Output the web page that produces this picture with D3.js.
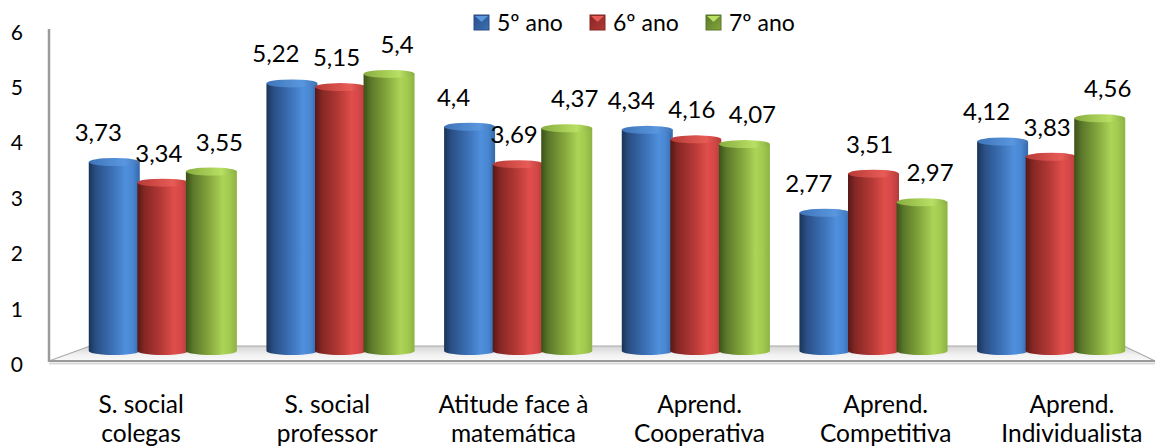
<!DOCTYPE html>
<html>
<head>
<meta charset="utf-8">
<script src="https://cdn.jsdelivr.net/npm/d3@7"></script>
<style>
  html, body { margin: 0; padding: 0; background: #fff; }
  svg { display: block; font-family: Lato, "Open Sans", sans-serif; }
</style>
</head>
<body>
<svg id="chart" width="1156" height="448"></svg>
<script>
// Categories (two-line labels) and the three school-year series
const categories = [
  ["S. social", "colegas"],
  ["S. social", "professor"],
  ["Atitude face à", "matemática"],
  ["Aprend.", "Cooperativa"],
  ["Aprend.", "Competitiva"],
  ["Aprend.", "Individualista"]
];
const seriesNames = ["5º ano", "6º ano", "7º ano"];
const ano5 = [3.73, 5.22, 4.4, 4.34, 2.77, 4.12];
const ano6 = [3.34, 5.15, 3.69, 4.16, 3.51, 3.83];
const ano7 = [3.55, 5.4, 4.37, 4.07, 2.97, 4.56];
const yTicks = [0, 1, 2, 3, 4, 5, 6];

const seriesValues = [ano5, ano6, ano7];
const palette = [
  { id: "blue",  stops: ["#1b3356", "#2a4f85", "#3b6fb4", "#4f8fdc", "#4a87d2", "#3467a8"], top: "#5a97df", topEdge: "#3f74b8" },
  { id: "red",   stops: ["#561817", "#852724", "#b23835", "#e04e4a", "#d5474a", "#b33c39"], top: "#e85c57", topEdge: "#b73a36" },
  { id: "green", stops: ["#3b5017", "#5a772a", "#84a63c", "#acd457", "#a2ca4f", "#8db243"], top: "#b9e064", topEdge: "#88ad40" }
];
const stopOffsets = [0, 0.14, 0.45, 0.72, 0.86, 1];

const svg = d3.select("#chart");
const defs = svg.append("defs");

palette.forEach(p => {
  const g = defs.append("linearGradient").attr("id", "body-" + p.id)
    .attr("x1", 0).attr("x2", 1).attr("y1", 0).attr("y2", 0);
  p.stops.forEach((c, i) => g.append("stop").attr("offset", stopOffsets[i]).attr("stop-color", c));
  const t = defs.append("linearGradient").attr("id", "top-" + p.id)
    .attr("x1", 0).attr("x2", 1).attr("y1", 0).attr("y2", 0);
  t.append("stop").attr("offset", 0).attr("stop-color", p.topEdge);
  t.append("stop").attr("offset", 0.7).attr("stop-color", p.top);
  t.append("stop").attr("offset", 1).attr("stop-color", p.topEdge);
  const lg = defs.append("linearGradient").attr("id", "leg-" + p.id)
    .attr("x1", 0).attr("x2", 1).attr("y1", 0).attr("y2", 1);
  lg.append("stop").attr("offset", 0).attr("stop-color", p.stops[1]);
  lg.append("stop").attr("offset", 1).attr("stop-color", p.stops[2]);
});

const floorGrad = defs.append("linearGradient").attr("id", "floor")
  .attr("x1", 0).attr("x2", 0).attr("y1", 0).attr("y2", 1);
floorGrad.append("stop").attr("offset", 0).attr("stop-color", "#d4d4d4");
floorGrad.append("stop").attr("offset", 0.6).attr("stop-color", "#f2f2f2");
floorGrad.append("stop").attr("offset", 1).attr("stop-color", "#fafafa");

// Back-wall scale for the cylinders, front scale for the value axis labels
const floorY = 355;
const yBar = d3.scaleLinear().domain([0, 6]).range([floorY, floorY - 316.8]);
const yAxisScale = d3.scaleLinear().domain([0, 6]).range([364.5, 32]);

// Category band on the back plane, and the projected front band for labels
const x0 = d3.scaleBand().domain(d3.range(categories.length)).range([74, 1140]).paddingInner(0.18).paddingOuter(0.09);
const xFront = d3.scaleBand().domain(d3.range(categories.length)).range([48, 1165]).paddingInner(0.18).paddingOuter(0.09);
const x1 = d3.scaleBand().domain(d3.range(seriesNames.length)).range([0, x0.bandwidth()]).padding(0);

// Floor platform
const floorPts = [[49, 361], [1155, 361], [1124, 346], [90, 346]];
svg.append("polygon")
  .attr("points", floorPts.map(p => p.join(",")).join(" "))
  .attr("fill", "url(#floor)")
  .attr("stroke", "#a9a9a9").attr("stroke-width", 1.2);
svg.append("line").attr("x1", 49).attr("x2", 1155).attr("y1", 361).attr("y2", 361)
  .attr("stroke", "#9a9a9a").attr("stroke-width", 2);
svg.append("line").attr("x1", 49).attr("x2", 1155).attr("y1", 363.5).attr("y2", 363.5)
  .attr("stroke", "#dadada").attr("stroke-width", 2);

// Vertical axis edge
svg.append("line").attr("x1", 49).attr("x2", 49).attr("y1", 29).attr("y2", 362)
  .attr("stroke", "#9b9b9b").attr("stroke-width", 2.5);

// Value axis labels
svg.append("g").selectAll("text").data(yTicks).join("text")
  .attr("x", 23).attr("y", d => yAxisScale(d))
  .attr("dy", "0.36em")
  .attr("text-anchor", "end")
  .attr("font-size", 21)
  .attr("fill", "#000")
  .text(d => d);

// Cylinders
const barW = 51;
const ry = 4;
const bars = svg.append("g");
categories.forEach((cat, ci) => {
  seriesValues.forEach((vals, si) => {
    const v = vals[ci];
    const cx = x0(ci) + x1(si) + x1.bandwidth() / 2;
    const left = cx - barW / 2;
    const topY = yBar(v) + ry;
    const botY = yBar(0) - ry;
    const p = palette[si];
    const g = bars.append("g");
    g.append("path")
      .attr("d", `M${left},${topY} L${left},${botY} A${barW / 2},${ry} 0 0 0 ${left + barW},${botY} L${left + barW},${topY} Z`)
      .attr("fill", `url(#body-${p.id})`);
    g.append("ellipse")
      .attr("cx", cx).attr("cy", topY).attr("rx", barW / 2).attr("ry", ry)
      .attr("fill", `url(#top-${p.id})`);
  });
});

// Value labels above each cylinder, fanned out slightly within a group
const fmt = v => String(v).replace(".", ",");
const labelSpread = 12;
const labels = svg.append("g");
categories.forEach((cat, ci) => {
  seriesValues.forEach((vals, si) => {
    const v = vals[ci];
    const cx = x0(ci) + x1(si) + x1.bandwidth() / 2;
    labels.append("text")
      .attr("x", cx + (si - 1) * labelSpread - 4).attr("y", yBar(v) - 17)
      .attr("text-anchor", "middle")
      .attr("font-size", 24)
      .attr("fill", "#000")
      .text(fmt(v));
  });
});

// Category labels
svg.append("g").selectAll("text").data(categories).join("text")
  .attr("text-anchor", "middle")
  .attr("font-size", 24.5)
  .attr("fill", "#000")
  .each(function (d, i) {
    const cx = xFront(i) + xFront.bandwidth() / 2;
    d3.select(this).selectAll("tspan").data(d).join("tspan")
      .attr("x", cx)
      .attr("y", (t, k) => 413 + k * 29)
      .text(t => t);
  });

// Legend
const legendX = [474, 590, 706];
const legend = svg.append("g");
seriesNames.forEach((name, i) => {
  const p = palette[i];
  const lx = legendX[i];
  legend.append("rect").attr("x", lx).attr("y", 15).attr("width", 15).attr("height", 15)
    .attr("fill", `url(#leg-${p.id})`).attr("stroke", p.stops[1]).attr("stroke-width", 1);
  legend.append("path")
    .attr("d", `M${lx + 1},${16} L${lx + 14},${16} L${lx + 7.5},${22} Z`)
    .attr("fill", p.top);
  legend.append("text").attr("x", lx + 23).attr("y", 31)
    .attr("font-size", 23).attr("fill", "#000").text(name);
});
</script>
</body>
</html>
